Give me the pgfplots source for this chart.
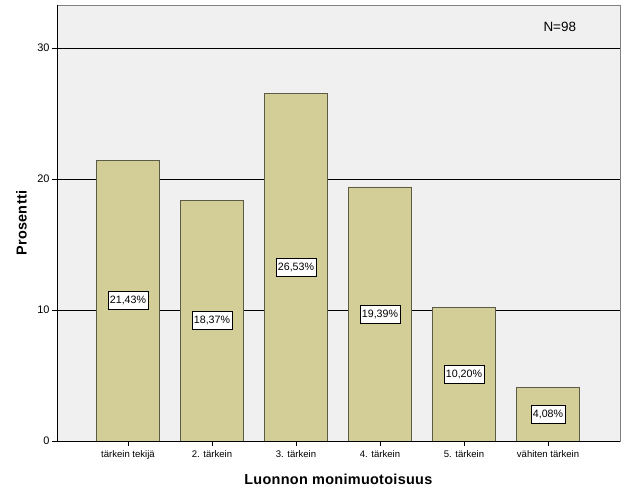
\documentclass[border=0pt]{standalone}
\usepackage{fontspec}
\setmainfont{Liberation Sans}
\usepackage{pgfplots}
\pgfplotsset{compat=1.18}
\definecolor{bg}{HTML}{F0F0F0}
\definecolor{barfill}{HTML}{D3CE97}
\definecolor{baredge}{HTML}{5C5A48}
\definecolor{frame}{HTML}{808080}
\begin{document}
\begin{tikzpicture}
\useasboundingbox (0,0) rectangle (626bp,501bp);
\begin{axis}[
  at={(57bp,60bp)}, anchor=south west,
  scale only axis, width=563bp, height=436bp,
  xmin=-0.845, xmax=5.857, ymin=0, ymax=33.28,
  axis background/.style={fill=bg},
  axis line style={draw=frame, line width=0.8bp},
  ytick={0,10,20,30},
  ymajorgrids, grid style={black, line width=0.6bp},
  xtick={0,1,2,3,4,5},
  xticklabels={tärkein tekijä, 2. tärkein, 3. tärkein, 4. tärkein, 5. tärkein, vähiten tärkein},
  xtick pos=left, ytick pos=left,
  tick align=outside, major tick length=5bp,
  tick style={black, line width=0.6bp},
  /pgf/number format/assume math mode=true,
  xticklabel style={font=\fontsize{9.6}{11}\selectfont, yshift=-1bp},
  yticklabel style={font=\fontsize{11}{12}\selectfont, xshift=1bp},
  ylabel={\textbf{Prosentti}},
  xlabel={\textbf{Luonnon monimuotoisuus}},
  label style={font=\fontsize{14.5}{16}\selectfont\addfontfeature{LetterSpace=2}},
  ylabel style={at={(axis description cs:0,0.5)}, anchor=center, yshift=35.5bp},
  xlabel style={at={(axis description cs:0.5,0)}, anchor=center, yshift=-38bp},
  ybar, bar width=0.75,
  visualization depends on={y \as \rawy},
  nodes near coords={\pgfmathprintnumber[fixed, fixed zerofill, precision=2, use comma]{\pgfplotspointmeta}\%},
  every node near coord/.append style={
    shift={(axis direction cs:0,-\rawy/2)}, anchor=center,
    fill=white, draw=black, line width=0.6bp, inner xsep=2bp, inner ysep=0bp,
    minimum height=18bp,
    font=\fontsize{10.7}{12}\selectfont},
  clip=false,
]
\addplot[fill=barfill, draw=baredge, line width=0.8bp] coordinates {
  (0,21.43) (1,18.37) (2,26.53) (3,19.39) (4,10.20) (5,4.08)
};
\draw[black, line width=0.8bp] (rel axis cs:0,1) -- (rel axis cs:0,0) -- (rel axis cs:1,0);
\node[anchor=center, font=\fontsize{13.5}{15}\selectfont] at (axis cs:5.14,31.6) {N=98};
\end{axis}
\end{tikzpicture}
\end{document}
